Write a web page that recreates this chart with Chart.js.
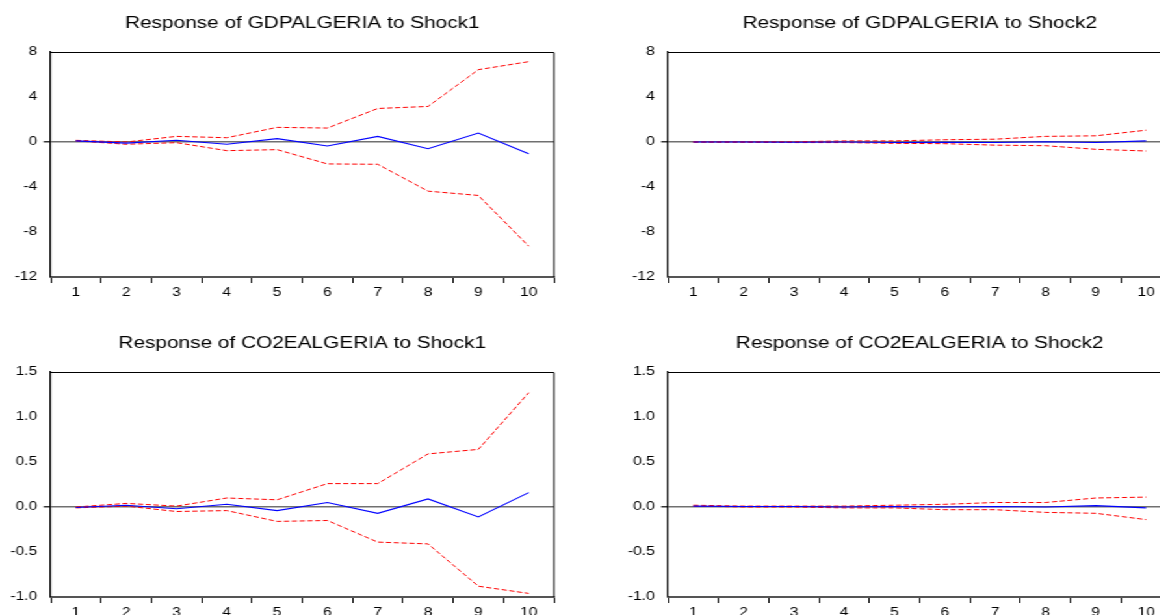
<!DOCTYPE html>
<html>
<head>
<meta charset="utf-8">
<script src="https://cdn.jsdelivr.net/npm/chart.js@4/dist/chart.umd.min.js"></script>
<style>
html, body { margin: 0; padding: 0; background: #fff; overflow: hidden; width: 1160px; height: 615px; }
/* the original graph is stretched sideways, so the whole sheet is scaled in x */
#wrap { position: absolute; left: 0; top: 0; width: 940px; height: 615px; transform: scaleX(1.3); transform-origin: 0 0; }
.panel { position: absolute; }
</style>
</head>
<body>
<div id="wrap">
  <div class="panel" style="left:0;top:0"><canvas id="c1" width="465" height="300"></canvas></div>
  <div class="panel" style="left:475px;top:0"><canvas id="c2" width="465" height="300"></canvas></div>
  <div class="panel" style="left:0;top:320px"><canvas id="c3" width="465" height="295"></canvas></div>
  <div class="panel" style="left:475px;top:320px"><canvas id="c4" width="465" height="295"></canvas></div>
</div>
<script>
const periods = ['1', '2', '3', '4', '5', '6', '7', '8', '9', '10'];

// Response of GDPALGERIA to Shock1
const gdpShock1 = [0.1, -0.1, 0.15, -0.2, 0.3, -0.35, 0.5, -0.6, 0.8, -1.05];
const gdpShock1Upper = [0.15, 0.0, 0.5, 0.38, 1.3, 1.24, 2.98, 3.16, 6.43, 7.14];
const gdpShock1Lower = [0.1, -0.2, -0.06, -0.77, -0.68, -1.95, -1.98, -4.37, -4.75, -9.26];

// Response of GDPALGERIA to Shock2
const gdpShock2 = [0.0, 0.0, -0.02, 0.0, -0.05, -0.03, -0.05, 0.02, -0.05, 0.1];
const gdpShock2Upper = [0.02, 0.03, 0.02, 0.1, 0.1, 0.2, 0.25, 0.5, 0.55, 1.05];
const gdpShock2Lower = [-0.02, -0.03, -0.05, -0.05, -0.12, -0.15, -0.28, -0.33, -0.65, -0.8];

// Response of CO2EALGERIA to Shock1
const co2Shock1 = [-0.005, 0.02, -0.02, 0.03, -0.04, 0.05, -0.07, 0.09, -0.11, 0.16];
const co2Shock1Upper = [0.0, 0.04, 0.01, 0.1, 0.08, 0.26, 0.26, 0.59, 0.64, 1.27];
const co2Shock1Lower = [-0.01, 0.01, -0.05, -0.04, -0.16, -0.15, -0.39, -0.41, -0.88, -0.96];

// Response of CO2EALGERIA to Shock2
const co2Shock2 = [0.01, 0.005, 0.005, 0.0, 0.005, 0.0, 0.005, 0.0, 0.015, -0.01];
const co2Shock2Upper = [0.02, 0.01, 0.01, 0.01, 0.02, 0.03, 0.05, 0.05, 0.1, 0.11];
const co2Shock2Lower = [0.01, 0.0, 0.0, -0.01, -0.01, -0.03, -0.03, -0.06, -0.07, -0.14];

const gdpTicks = [-12, 8, 4];    // min, max, step
const co2Ticks = [-1.0, 1.5, 0.5];

const FONT = '"Liberation Sans", Arial, sans-serif';

// thin box on top and right of the plot area
const frame = {
    id: 'frame',
    afterDraw(chart) {
        const a = chart.chartArea;
        const ctx = chart.ctx;
        ctx.save();
        ctx.strokeStyle = '#000';
        ctx.lineWidth = 1;
        ctx.beginPath();
        ctx.moveTo(a.left, a.top + 0.5);
        ctx.lineTo(a.right, a.top + 0.5);
        ctx.lineTo(a.right, a.bottom);
        ctx.stroke();
        ctx.restore();
    }
};

function drawPanel(id, title, resp, upper, lower, yRange, decimals) {
    const canvas = document.getElementById(id);
    const h = canvas.height;
    new Chart(canvas.getContext('2d'), {
        type: 'line',
        data: {
            labels: periods,
            datasets: [
                { data: resp, borderColor: '#0000ff', borderWidth: 1.1, pointRadius: 0, tension: 0 },
                { data: upper, borderColor: '#ff0000', borderWidth: 1, borderDash: [4, 2], pointRadius: 0, tension: 0 },
                { data: lower, borderColor: '#ff0000', borderWidth: 1, borderDash: [4, 2], pointRadius: 0, tension: 0 }
            ]
        },
        options: {
            responsive: false,
            animation: false,
            devicePixelRatio: 1,
            layout: { padding: 0 },
            plugins: {
                legend: { display: false },
                tooltip: { enabled: false },
                title: {
                    display: true,
                    text: title,
                    color: '#000',
                    font: { family: FONT, size: 16, weight: 'normal', lineHeight: 1.2 },
                    padding: { top: 14, bottom: 18.8 }
                }
            },
            scales: {
                x: {
                    offset: true,
                    grid: { offset: true, drawOnChartArea: false, tickColor: '#000', tickLength: 6 },
                    border: { color: '#555', width: 2 },
                    ticks: { color: '#000', font: { family: FONT, size: 12 }, padding: 2, maxRotation: 0 },
                    afterFit: s => { s.height = h - 277; }
                },
                y: {
                    min: yRange[0],
                    max: yRange[1],
                    grid: {
                        color: c => c.tick && c.tick.value === 0 ? '#707070' : 'rgba(0,0,0,0)',
                        lineWidth: c => c.tick && c.tick.value === 0 ? 1.5 : 0,
                        tickColor: '#333',
                        tickLength: 5.4
                    },
                    border: { color: '#000', width: 1.2 },
                    ticks: {
                        stepSize: yRange[2],
                        color: '#000',
                        padding: 5,
                        font: { family: FONT, size: 12 },
                        callback: v => v.toFixed(decimals)
                    },
                    afterFit: s => { s.width = 39; }
                },
                // empty axis on the right, same width as the left one, so the title is centred over the plot
                yPad: {
                    position: 'right',
                    grid: { display: false },
                    border: { display: false },
                    ticks: { display: false },
                    afterFit: s => { s.width = 39; }
                }
            }
        },
        plugins: [frame]
    });
}

drawPanel('c1', 'Response of GDPALGERIA to Shock1', gdpShock1, gdpShock1Upper, gdpShock1Lower, gdpTicks, 0);
drawPanel('c2', 'Response of GDPALGERIA to Shock2', gdpShock2, gdpShock2Upper, gdpShock2Lower, gdpTicks, 0);
drawPanel('c3', 'Response of CO2EALGERIA to Shock1', co2Shock1, co2Shock1Upper, co2Shock1Lower, co2Ticks, 1);
drawPanel('c4', 'Response of CO2EALGERIA to Shock2', co2Shock2, co2Shock2Upper, co2Shock2Lower, co2Ticks, 1);
</script>
</body>
</html>
